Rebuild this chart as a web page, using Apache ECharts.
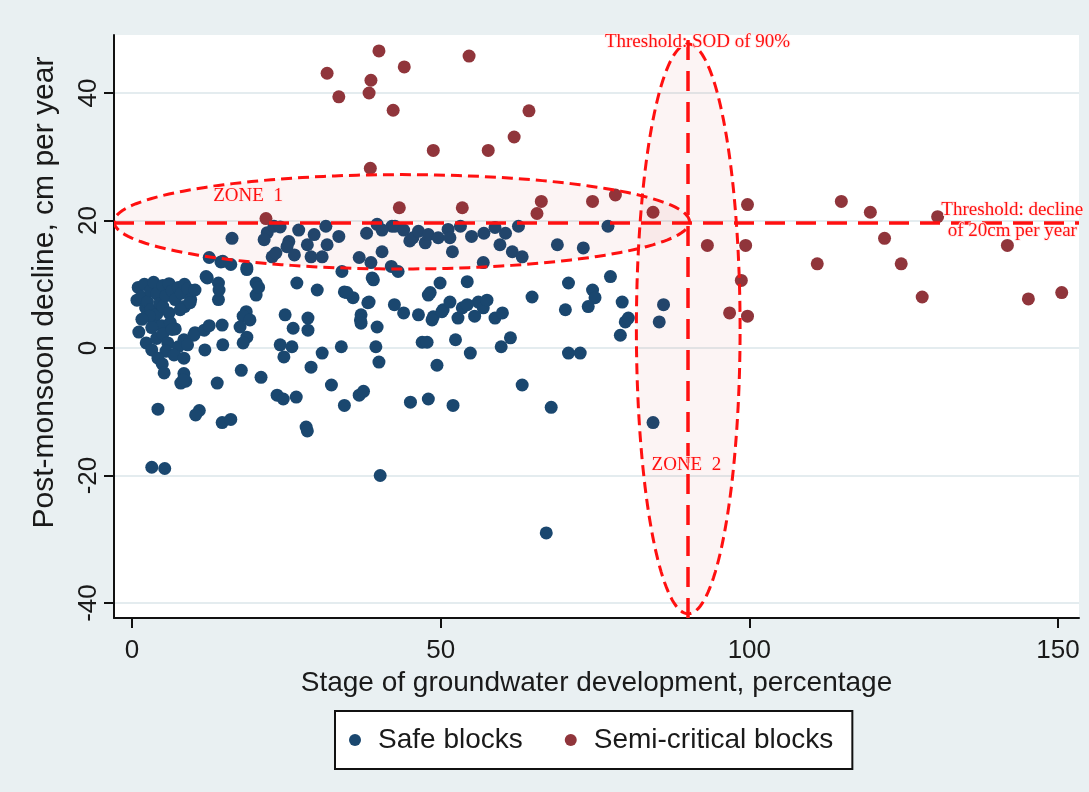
<!DOCTYPE html>
<html>
<head>
<meta charset="utf-8">
<script src="https://cdn.jsdelivr.net/npm/echarts@6/dist/echarts.min.js"></script>
<style>
html,body{margin:0;padding:0;background:#e9f0f2;}
#chart{width:1089px;height:792px;}
</style>
</head>
<body>
<div id="chart"></div>
<script>
// ---- data ----
const xTicks = [0, 50, 100, 150];
const yTicks = [-40, -20, 0, 20, 40];

const safeBlocks = [
  [0.8,7.5],[1.0,9.5],[1.5,8.0],[2.0,10.0],[2.2,6.3],[2.5,7.2],[3.0,9.0],[3.0,6.0],[3.5,10.3],[3.5,4.3],
  [4.0,8.5],[4.0,5.3],[4.5,7.0],[5.0,9.8],[5.0,6.5],[5.5,8.2],[6.0,10.1],[6.0,5.5],[6.5,9.0],[7.0,7.6],
  [7.5,9.5],[8.0,8.6],[8.5,10.0],[9.0,9.3],[2.8,5.0],[4.8,3.5],[6.2,4.0],[7.0,3.0],[1.6,4.5],[1.1,2.5],
  [2.3,0.8],[3.2,3.2],[4.0,1.5],[5.0,2.2],[5.8,0.8],[6.5,2.9],[3.2,-0.3],[5.5,-0.5],[7.5,0.2],[4.2,-1.6],
  [6.8,-1.1],[8.4,-1.6],[4.9,-2.5],[5.2,-3.9],[7.9,-5.5],[8.7,-5.2],[8.4,-4.0],[4.2,-9.6],[3.2,-18.7],[5.3,-18.9],
  [8.5,6.5],[9.5,7.6],[9.4,7.1],[7.8,6.0],
  [10.2,9.1],[12.2,11.0],[10.2,2.4],[8.4,1.3],[11.7,2.8],[12.5,3.5],[11.8,-0.3],[10.0,2.0],[9.0,0.5],
  [14.0,10.2],[14.0,7.6],[14.6,3.6],[14.7,0.5],[17.7,-3.5],[20.9,-4.6],[13.8,-5.5],[10.9,-9.8],[10.3,-10.5],
  [14.6,-11.7],[16.0,-11.2],[12.0,11.2],[18.6,12.3],[20.1,10.2],[20.1,8.3],[18.5,5.7],[18.0,5.0],[19.1,4.4],
  [17.5,3.3],[18.6,1.7],[18.0,0.8],
  [12.5,14.2],[14.4,13.5],[16.0,13.1],[18.6,12.6],[16.2,17.2],[21.9,18.1],[23.0,19.1],[21.4,17.0],[25.4,16.7],
  [25.1,15.9],[26.3,14.6],[22.7,14.3],[28.4,16.2],[29.5,17.8],[31.4,19.1],[31.6,16.2],[29.0,14.3],[30.8,14.3],
  [27.0,18.5],[24.0,19.0],[33.5,17.5],[34.0,12.0],[36.8,14.2],[38.7,13.4],[40.5,15.1],[42.1,19.1],[39.7,19.4],
  [40.5,18.5],[38.0,18.0],[42.0,12.8],[43.1,12.0],[42.6,19.1],[44.0,18.5],[45.0,16.8],[45.5,17.3],[46.4,18.3],
  [47.5,16.5],[48.0,17.8],[49.6,17.3],[51.2,18.6],[51.5,17.3],[51.9,15.1],[53.2,19.1],[55.0,17.5],[57.0,18.0],
  [56.9,13.4],[58.8,18.9],[59.6,16.2],[60.5,18.0],[61.6,15.1],[62.6,19.1],[63.2,14.3],[68.9,16.2],[73.1,15.7],
  [77.1,19.1],[23.3,14.9],[14.7,13.6],
  [14.1,9.1],[26.7,10.2],[30.0,9.1],[34.4,8.8],[38.9,11.0],[38.4,7.2],[42.5,6.8],[37.1,5.2],[35.8,7.9],
  [34.8,8.7],[39.1,10.7],[38.2,7.1],[37.0,4.4],[39.7,3.3],[37.1,3.9],[46.4,5.2],[47.0,0.9],[49.9,10.2],
  [48.3,8.7],[48.8,4.9],[50.4,6.0],[48.6,4.4],[52.8,4.7],[58.8,4.7],[47.8,0.9],[52.4,1.3],[54.8,-0.8],
  [61.3,1.6],[59.8,0.2],[54.3,10.4],[48.0,8.3],[70.7,10.2],[64.8,8.0],[74.6,9.1],[77.5,11.2],[75.0,7.9],
  [79.4,7.2],[70.2,6.0],[73.9,6.5],[86.1,6.8],[85.4,4.1],[79.9,4.1],[79.1,2.0],[80.4,4.7],[50.2,5.7],
  [51.5,7.2],[56.1,7.2],[56.9,6.3],[60.0,5.5],[53.5,6.3],[54.3,6.8],[44.0,5.5],[55.5,5.0],[57.5,7.5],
  [24.8,5.2],[26.1,3.1],[28.5,4.7],[28.5,2.8],[24.0,0.5],[25.9,0.2],[24.6,-1.4],[30.8,-0.8],[33.9,0.2],
  [39.5,0.2],[40.0,-2.2],[49.4,-2.7],[70.7,-0.8],[72.6,-0.8],[29.0,-3.0],[20.5,9.5],
  [23.5,-7.4],[24.5,-8.0],[26.6,-7.7],[28.2,-12.4],[28.4,-13.0],[32.3,-5.8],[34.4,-9.0],[36.8,-7.4],[37.5,-6.8],
  [40.2,-20.0],[45.1,-8.5],[48.0,-8.0],[52.0,-9.0],[63.2,-5.8],[67.9,-9.3],[67.1,-29.0],[84.4,-11.7],[8.3,-5.0]
];

const semiCriticalBlocks = [
  [31.6,43.1],[33.5,39.4],[38.7,42.0],[38.4,40.0],[40.0,46.6],[44.1,44.1],[42.3,37.3],[54.6,45.8],
  [48.8,31.0],[57.7,31.0],[64.3,37.2],[61.9,33.1],[38.6,28.2],[43.3,22.0],[21.7,20.3],[53.5,22.0],
  [66.3,23.0],[65.6,21.1],[74.6,23.0],[78.3,24.0],[84.4,21.3],[99.7,22.5],[93.2,16.1],[99.4,16.1],
  [98.7,10.6],[96.8,5.5],[99.7,5.0],[111.0,13.2],[114.9,23.0],[119.6,21.3],[121.9,17.2],[124.6,13.2],
  [128.0,8.0],[130.5,20.6],[141.8,16.1],[145.2,7.7],[150.6,8.7]
];

// annotation geometry (data units)
const thresholdDecline = 19.7;
const thresholdSOD = 90;
const zoneEllipses = [
  // [centreX, centreY, radiusX, radiusY]
  [43.7, 19.8, 46.6, 7.4],
  [90.1, 3.0, 8.4, 44.7]
];
const annotationTexts = ['ZONE  1', 'ZONE  2', 'Threshold: SOD of 90%', 'Threshold: decline', 'of 20cm per year'];
const annotationPositions = [[18.8, 23.9], [89.8, -18.4], [91.6, 48.0], [142.6, 21.7], [142.6, 18.4]];

// ---- chart ----
const chart = echarts.init(document.getElementById('chart'), null, {renderer: 'canvas'});
const sans = '"Liberation Sans", Arial, sans-serif';
const serif = '"Liberation Serif", "Times New Roman", serif';

function renderEllipse(params, api) {
  const cx = api.value(0), cy = api.value(1), rx = api.value(2), ry = api.value(3);
  const pts = [];
  const n = 160;
  for (let i = 0; i < n; i++) {
    const t = i / n * Math.PI * 2;
    pts.push(api.coord([cx + rx * Math.cos(t), cy + ry * Math.sin(t)]));
  }
  return {
    type: 'polygon',
    shape: {points: pts},
    style: {fill: 'rgba(200,30,30,0.05)', stroke: '#ff1010', lineWidth: 3, lineDash: [11, 6]}
  };
}

function renderText(params, api) {
  const p = api.coord([api.value(0), api.value(1)]);
  return {
    type: 'text',
    x: p[0], y: p[1],
    style: {
      text: annotationTexts[params.dataIndex],
      fill: '#ff1010',
      fontSize: 19,
      fontFamily: serif,
      align: 'center',
      verticalAlign: 'middle',
      stroke: 'rgba(255,235,235,0.9)',
      lineWidth: 2
    }
  };
}

chart.setOption({
  backgroundColor: '#e9f0f2',
  animation: false,
  grid: {left: 114, right: 10, top: 35, bottom: 174, show: true, backgroundColor: '#ffffff', borderWidth: 0},
  legend: {
    left: 335, top: 711,
    backgroundColor: '#ffffff', borderColor: '#111', borderWidth: 2,
    padding: [15, 19, 15, 14],
    itemGap: 42, itemWidth: 12, itemHeight: 12,
    textStyle: {fontSize: 28, fontFamily: sans, color: '#1a1a1a', padding: [0, 0, 0, 12]},
    data: [{name: 'Safe blocks', icon: 'circle'}, {name: 'Semi-critical blocks', icon: 'circle'}]
  },
  xAxis: {
    type: 'value', min: -2.92, max: 153.4,
    name: 'Stage of groundwater development, percentage',
    nameLocation: 'middle', nameGap: 42,
    nameTextStyle: {fontSize: 28, fontFamily: sans, color: '#1a1a1a'},
    axisLine: {show: true, onZero: false, lineStyle: {color: '#111', width: 2}},
    axisTick: {show: true, customValues: xTicks, length: 10, lineStyle: {color: '#111', width: 2}},
    axisLabel: {customValues: xTicks, fontSize: 26, fontFamily: sans, color: '#1a1a1a', margin: 20},
    splitLine: {show: false}
  },
  yAxis: {
    type: 'value', min: -42.35, max: 49.1,
    name: 'Post-monsoon decline, cm per year',
    nameLocation: 'middle', nameGap: 54,
    nameTextStyle: {fontSize: 30, fontFamily: sans, color: '#1a1a1a', padding: [0, 0, 0, 68]},
    axisLine: {show: true, onZero: false, lineStyle: {color: '#111', width: 2}},
    axisTick: {show: true, customValues: yTicks, length: 10, lineStyle: {color: '#111', width: 2}},
    axisLabel: {customValues: yTicks, rotate: 90, fontSize: 26, fontFamily: sans, color: '#1a1a1a', margin: 12},
    splitLine: {show: true, lineStyle: {color: '#e4ecef', width: 2}}
  },
  series: [
    {
      name: 'Safe blocks', type: 'scatter', data: safeBlocks,
      symbol: 'circle', symbolSize: 13, itemStyle: {color: '#1a476f', opacity: 1},
      z: 2
    },
    {
      name: 'Semi-critical blocks', type: 'scatter', data: semiCriticalBlocks,
      symbol: 'circle', symbolSize: 13, itemStyle: {color: '#90353b', opacity: 1},
      z: 2
    },
    {
      name: 'zones', type: 'custom', data: zoneEllipses, renderItem: renderEllipse,
      encode: {x: 0, y: 1}, silent: true, z: 3, clip: true,
      markLine: {
        silent: true, symbol: ['none', 'none'],
        label: {show: false},
        lineStyle: {color: '#ff1010', width: 3.5, type: [20, 11]},
        data: [{yAxis: thresholdDecline}, {xAxis: thresholdSOD}]
      }
    },
    {
      name: 'labels', type: 'custom', data: annotationPositions, renderItem: renderText,
      encode: {x: 0, y: 1}, silent: true, z: 6, clip: false
    }
  ]
});
</script>
</body>
</html>
